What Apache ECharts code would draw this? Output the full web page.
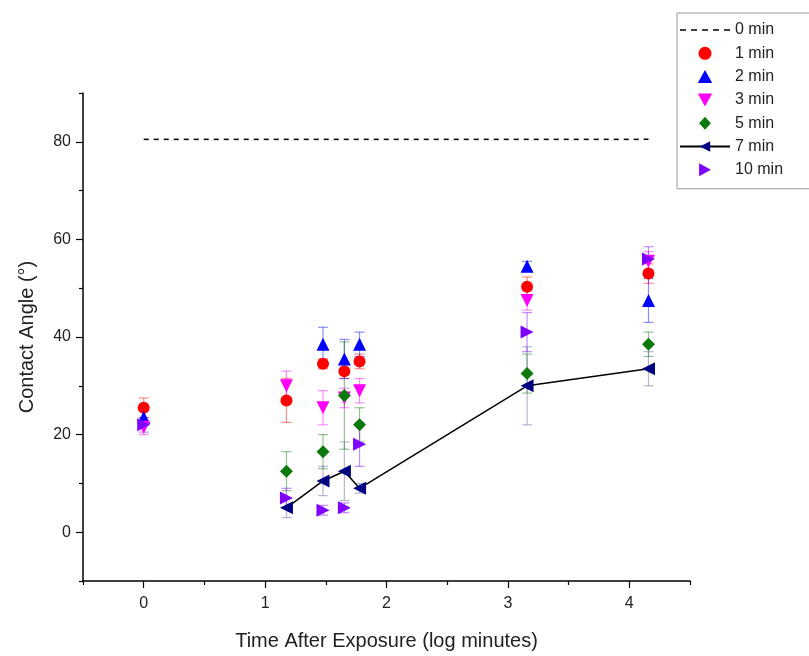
<!DOCTYPE html>
<html>
<head>
<meta charset="utf-8">
<script src="https://cdn.jsdelivr.net/npm/echarts@6/dist/echarts.min.js"></script>
<style>
html,body{margin:0;padding:0;background:#fff;}
#chart{width:809px;height:656px;}
</style>
</head>
<body>
<div id="chart"></div>
<script>
// ---- data ----
const xVals = [0, 1.176, 1.477, 1.653, 1.778, 3.158, 4.158];
const zeroMinX = [0, 4.158];
const zeroMinY = [80.5, 80.5];
const min1 = [25.5, 27, 34.5, 33, 35, 50.3, 53];
const err1 = [2, 4.5, 1, 1.5, 1.5, 2, 2];
const min2 = [23.5, null, 38.5, 35.5, 38.5, 54.5, 47.5];
const err2 = [1.5, null, 3.5, 4, 2.5, 1, 4.5];
const min3 = [21.5, 30, 25.5, 27.5, 29, 47.5, 55.5];
const err3 = [1.5, 3, 3.5, 2, 2.5, 2, 2];
const min5 = [null, 12.5, 16.5, 28, 22, 32.5, 38.5];
const err5 = [null, 4, 3.5, 11, 3.5, 4, 2.5];
const min7 = [null, 5, 10.5, 12.5, 9, 30, 33.5];
const err7 = [null, 2, 3, 6, 1, 8, 3.5];
const min10 = [22, 7, 4.5, 5, 18, 41, 56];
const err10 = [1.5, 2, 1, 1, 4.5, 4, 2.5];
const xTickLabels = [0, 1, 2, 3, 4];
const xMinorTicks = [-0.5, 0.5, 1.5, 2.5, 3.5, 4.5];
const yTickLabels = [0, 20, 40, 60, 80];
const yMinorTicks = [-10, 10, 30, 50, 70, 90];

const FONT = "'Liberation Sans', Arial, sans-serif";

function pts(vals) {
  const out = [];
  vals.forEach((v, i) => { if (v !== null) out.push([xVals[i], v]); });
  return out;
}
function errPts(vals, errs) {
  const out = [];
  vals.forEach((v, i) => { if (v !== null && errs[i] !== null) out.push([xVals[i], v - errs[i], v + errs[i]]); });
  return out;
}
function errSeries(name, vals, errs, color) {
  return {
    name: name + ' err',
    type: 'custom',
    z: 1,
    silent: true,
    encode: { x: 0, y: [1, 2] },
    data: errPts(vals, errs),
    renderItem: function (params, api) {
      const x = api.value(0);
      const p1 = api.coord([x, api.value(2)]);
      const p2 = api.coord([x, api.value(1)]);
      const w = 5;
      const st = { stroke: color, lineWidth: 1.2, opacity: 0.45 };
      return {
        type: 'group',
        children: [
          { type: 'line', shape: { x1: p1[0], y1: p1[1], x2: p2[0], y2: p2[1] }, style: st },
          { type: 'line', shape: { x1: p1[0] - w, y1: p1[1], x2: p1[0] + w, y2: p1[1] }, style: st },
          { type: 'line', shape: { x1: p2[0] - w, y1: p2[1], x2: p2[0] + w, y2: p2[1] }, style: st }
        ]
      };
    }
  };
}

const UP = 'path://M5,0 L10,9 L0,9 Z';
const DOWN = 'path://M0,0 L10,0 L5,9 Z';
const LEFT = 'path://M9,0 L0,5 L9,10 Z';
const RIGHT = 'path://M0,0 L9,5 L0,10 Z';
const DIAMOND = 'path://M5,0 L10,5.5 L5,11 L0,5.5 Z';
const DASHES = 'path://M0,0 h6 v1.6 h-6 Z M11,0 h6 v1.6 h-6 Z M22,0 h6 v1.6 h-6 Z M33,0 h6 v1.6 h-6 Z M44,0 h6 v1.6 h-6 Z';

const cols = { m1: '#FF0000', m2: '#0000FF', m3: '#FF00FF', m5: '#0B7A0B', m7: '#000080', m10: '#7F00FF' };

const chart = echarts.init(document.getElementById('chart'));
chart.setOption({
  animation: false,
  backgroundColor: '#fff',
  textStyle: { fontFamily: FONT },
  grid: { left: 83, right: 119, top: 93, bottom: 74 },
  legend: {
    orient: 'vertical',
    left: 677, top: 13,
    itemWidth: 50, itemHeight: 13, itemGap: 7.3,
    padding: [9, 30, 11, 2],
    borderColor: '#999', borderWidth: 1,
    textStyle: { fontSize: 16, color: '#222', fontFamily: FONT },
    data: [
      { name: '0 min', icon: DASHES, itemStyle: { color: '#000' } },
      '1 min', '2 min', '3 min', '5 min', '7 min', '10 min'
    ]
  },
  xAxis: [{
    type: 'value', min: -0.5, max: 4.5,
    axisLine: { show: true, onZero: false, lineStyle: { color: '#000', width: 1.5 } },
    axisTick: { show: true, length: 7, customValues: xTickLabels, lineStyle: { color: '#000', width: 1.2 } },
    axisLabel: { customValues: xTickLabels, fontSize: 16, color: '#222', margin: 15, fontFamily: FONT },
    splitLine: { show: false },
    name: 'Time After Exposure (log minutes)', nameLocation: 'middle', nameGap: 50,
    nameTextStyle: { fontSize: 20, color: '#222', fontFamily: FONT }
  }, {
    type: 'value', min: -0.5, max: 4.5, position: 'bottom',
    axisLine: { show: false, onZero: false },
    axisTick: { show: true, length: 4, customValues: xMinorTicks, lineStyle: { color: '#000', width: 1.2 } },
    axisLabel: { show: false }, splitLine: { show: false }
  }],
  yAxis: [{
    type: 'value', min: -10, max: 90,
    axisLine: { show: true, onZero: false, lineStyle: { color: '#000', width: 1.5 } },
    axisTick: { show: true, length: 7, customValues: yTickLabels, lineStyle: { color: '#000', width: 1.2 } },
    axisLabel: { customValues: yTickLabels, fontSize: 16, color: '#222', margin: 12, fontFamily: FONT },
    splitLine: { show: false },
    name: 'Contact Angle (°)', nameLocation: 'middle', nameGap: 46,
    nameTextStyle: { fontSize: 20, color: '#222', fontFamily: FONT }
  }, {
    type: 'value', min: -10, max: 90, position: 'left',
    axisLine: { show: false, onZero: false },
    axisTick: { show: true, length: 4, customValues: yMinorTicks, lineStyle: { color: '#000', width: 1.2 } },
    axisLabel: { show: false }, splitLine: { show: false }
  }],
  series: [
    errSeries('1 min', min1, err1, cols.m1),
    errSeries('2 min', min2, err2, cols.m2),
    errSeries('3 min', min3, err3, cols.m3),
    errSeries('5 min', min5, err5, cols.m5),
    errSeries('7 min', min7, err7, '#6060A0'),
    errSeries('10 min', min10, err10, cols.m10),
    {
      name: '0 min', type: 'line', z: 3, symbol: 'none',
      data: zeroMinX.map((x, i) => [x, zeroMinY[i]]),
      lineStyle: { color: '#000', width: 1.5, type: [5, 5] },
      itemStyle: { color: '#000' }
    },
    { name: '1 min', type: 'scatter', z: 3, symbol: 'circle', symbolSize: 12, data: pts(min1), itemStyle: { color: cols.m1, opacity: 1 } },
    { name: '2 min', type: 'scatter', z: 3, symbol: UP, symbolSize: 13, data: pts(min2), itemStyle: { color: cols.m2, opacity: 1 } },
    { name: '3 min', type: 'scatter', z: 3, symbol: DOWN, symbolSize: 13, data: pts(min3), itemStyle: { color: cols.m3, opacity: 1 } },
    { name: '5 min', type: 'scatter', z: 3, symbol: DIAMOND, symbolSize: 13, data: pts(min5), itemStyle: { color: cols.m5, opacity: 1 } },
    {
      name: '7 min', type: 'line', z: 3, symbol: LEFT, symbolSize: 13, showAllSymbol: true,
      data: pts(min7),
      lineStyle: { color: '#000', width: 1.5 },
      itemStyle: { color: cols.m7, opacity: 1 }
    },
    { name: '10 min', type: 'scatter', z: 3, symbol: RIGHT, symbolSize: 13, data: pts(min10), itemStyle: { color: cols.m10, opacity: 1 } }
  ]
});
</script>
</body>
</html>
